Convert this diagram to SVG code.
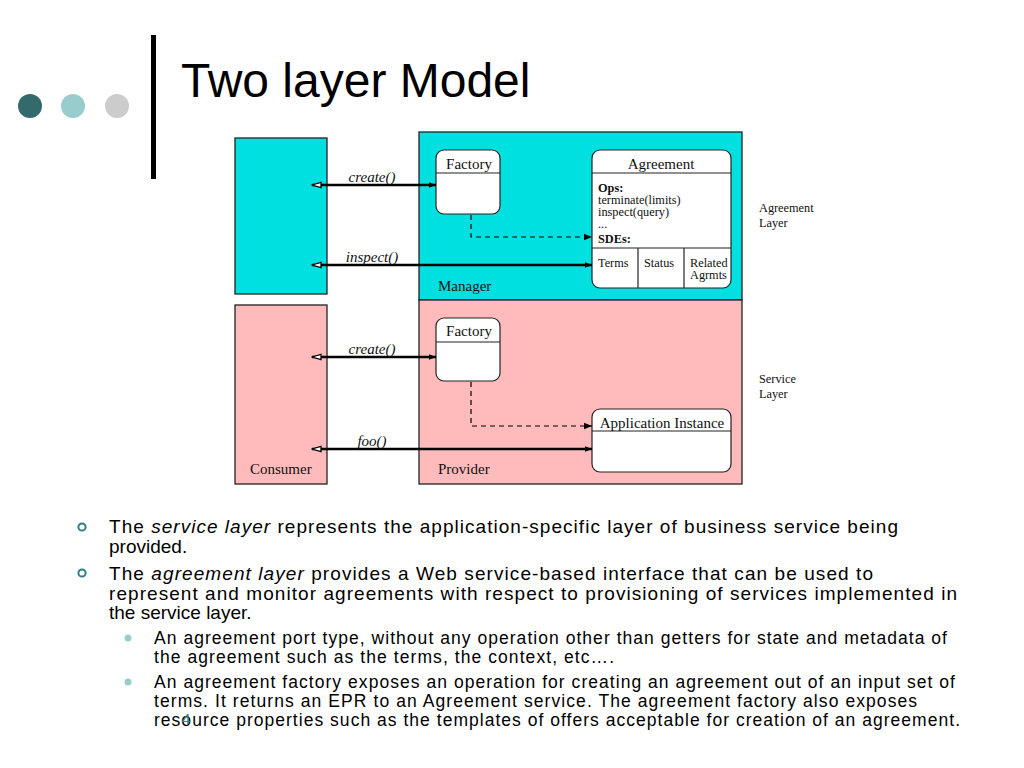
<svg xmlns="http://www.w3.org/2000/svg" width="1024" height="768" viewBox="0 0 1024 768">
<defs>
<style>
.box{stroke:#222;stroke-width:1.3}
.cy{fill:#00E0E0}
.pk{fill:#FFBBBB}
.node{fill:#fff;stroke:#222;stroke-width:1.2}
.ln{stroke:#222;stroke-width:1.2;fill:none}
.s{font-family:"Liberation Serif","Times New Roman",serif;font-size:15px;fill:#111}
.ss{font-family:"Liberation Serif","Times New Roman",serif;font-size:12.3px;fill:#111}
.it{font-family:"Liberation Serif","Times New Roman",serif;font-size:15px;font-style:italic;fill:#111}
.b{font-weight:bold}
.call{stroke:#000;stroke-width:2.4;fill:none}
.dash{stroke:#000;stroke-width:1.2;fill:none;stroke-dasharray:5,4}
.t{font-family:"Liberation Sans",Arial,sans-serif;font-size:19px;fill:#000}
.t2{font-family:"Liberation Sans",Arial,sans-serif;font-size:17.5px;fill:#000}
</style>
<marker id="fill" viewBox="0 0 10 10" refX="10" refY="5" markerWidth="11" markerHeight="7" markerUnits="userSpaceOnUse" orient="auto-start-reverse"><path d="M0,1 L10,5 L0,9 z" fill="#000"/></marker>
<marker id="fillsm" viewBox="0 0 10 10" refX="10" refY="5" markerWidth="12" markerHeight="8" markerUnits="userSpaceOnUse" orient="auto"><path d="M0,1 L10,5 L0,9 z" fill="#000"/></marker>
<marker id="open" viewBox="0 0 12 10" refX="11" refY="5" markerWidth="12" markerHeight="9" markerUnits="userSpaceOnUse" orient="auto-start-reverse"><path d="M1,2 L11,5 L1,8 z" fill="#fff" stroke="#000" stroke-width="1.4"/></marker>
</defs>
<rect width="1024" height="768" fill="#fff"/>

<g id="header">
<circle cx="30" cy="106" r="12" fill="#336A6C"/>
<circle cx="73" cy="106" r="12" fill="#99CCCC"/>
<circle cx="117" cy="106" r="12" fill="#CCCCCC"/>
<rect x="151" y="35" width="5" height="144" fill="#000"/>
<text x="181" y="97" font-family="Liberation Sans, Arial, sans-serif" font-size="48" fill="#000">Two layer Model</text>
</g>

<g id="layer-bg">
<rect id="consumer-top" class="box cy" x="235" y="138" width="92" height="156"/>
<rect id="consumer" class="box pk" x="235" y="305" width="92" height="179"/>
<rect id="manager" class="box cy" x="419" y="132" width="323" height="168"/>
<rect id="provider" class="box pk" x="419" y="300" width="323" height="184"/>
<text class="s" x="250" y="474">Consumer</text>
<text class="s" x="438" y="291">Manager</text>
<text class="s" x="438" y="474">Provider</text>
</g>

<g id="factory-top">
<rect class="node" x="436" y="150" width="64" height="64" rx="8"/>
<line class="ln" x1="436" y1="173" x2="500" y2="173"/>
<text class="s" x="469" y="169" text-anchor="middle">Factory</text>
</g>

<g id="agreement">
<rect class="node" x="592" y="150" width="139" height="138" rx="8"/>
<line class="ln" x1="592" y1="173" x2="731" y2="173"/>
<line class="ln" x1="592" y1="248" x2="731" y2="248"/>
<line class="ln" x1="638" y1="248" x2="638" y2="288"/>
<line class="ln" x1="684" y1="248" x2="684" y2="288"/>
<text class="s" x="661" y="169" text-anchor="middle">Agreement</text>
<text class="ss b" x="598" y="192">Ops:</text>
<text class="ss" x="598" y="204">terminate(limits)</text>
<text class="ss" x="598" y="216">inspect(query)</text>
<text class="ss" x="598" y="228">...</text>
<text class="ss b" x="598" y="243">SDEs:</text>
<text class="ss" x="598" y="267">Terms</text>
<text class="ss" x="644" y="267">Status</text>
<text class="ss" x="690" y="267">Related</text>
<text class="ss" x="690" y="279">Agrmts</text>
</g>

<g id="factory-bottom">
<rect class="node" x="436" y="318" width="64" height="63" rx="8"/>
<line class="ln" x1="436" y1="342" x2="500" y2="342"/>
<text class="s" x="469" y="336" text-anchor="middle">Factory</text>
</g>

<g id="app-instance">
<rect class="node" x="592" y="409" width="139" height="63" rx="8"/>
<line class="ln" x1="592" y1="431" x2="731" y2="431"/>
<text class="s" x="662" y="428" text-anchor="middle">Application Instance</text>
</g>

<g id="layer-labels">
<text class="ss" x="759" y="212">Agreement</text>
<text class="ss" x="759" y="227">Layer</text>
<text class="ss" x="759" y="383">Service</text>
<text class="ss" x="759" y="398">Layer</text>
</g>

<g id="connectors">
<line class="call" x1="312" y1="185" x2="436" y2="185" marker-start="url(#open)" marker-end="url(#fill)"/>
<line class="call" x1="312" y1="265" x2="592" y2="265" marker-start="url(#open)" marker-end="url(#fill)"/>
<line class="call" x1="312" y1="357" x2="436" y2="357" marker-start="url(#open)" marker-end="url(#fill)"/>
<line class="call" x1="312" y1="449" x2="592" y2="449" marker-start="url(#open)" marker-end="url(#fill)"/>
<path class="dash" d="M471,215 V237 H592" marker-end="url(#fillsm)"/>
<path class="dash" d="M471,382 V426 H592" marker-end="url(#fillsm)"/>
<text class="it" x="372" y="182" text-anchor="middle">create()</text>
<text class="it" x="372" y="262" text-anchor="middle">inspect()</text>
<text class="it" x="372" y="354" text-anchor="middle">create()</text>
<text class="it" x="372" y="446" text-anchor="middle">foo()</text>
</g>

<g id="bullets">
<circle cx="82" cy="527" r="3.6" fill="none" stroke="#2F7F86" stroke-width="2"/>
<circle cx="82" cy="573" r="3.6" fill="none" stroke="#2F7F86" stroke-width="2"/>
<text class="t" x="109" y="533" textLength="789" lengthAdjust="spacing">The <tspan font-style="italic">service layer</tspan> represents the application-specific layer of business service being</text>
<text class="t" x="109" y="553">provided.</text>
<text class="t" x="109" y="580" textLength="764" lengthAdjust="spacing">The <tspan font-style="italic">agreement layer</tspan> provides a Web service-based interface that can be used to</text>
<text class="t" x="109" y="600" textLength="848" lengthAdjust="spacing">represent and monitor agreements with respect to provisioning of services implemented in</text>
<text class="t" x="109" y="619">the service layer.</text>
<circle cx="128" cy="638" r="3.5" fill="#99CCCC"/>
<circle cx="128" cy="682" r="3.5" fill="#99CCCC"/>
<text class="t2" x="154" y="644" textLength="793" lengthAdjust="spacing">An agreement port type, without any operation other than getters for state and metadata of</text>
<text class="t2" x="154" y="663" textLength="460" lengthAdjust="spacing">the agreement such as the terms, the context, etc….</text>
<text class="t2" x="154" y="688" textLength="801" lengthAdjust="spacing">An agreement factory exposes an operation for creating an agreement out of an input set of</text>
<text class="t2" x="154" y="707" textLength="763" lengthAdjust="spacing">terms. It returns an EPR to an Agreement service. The agreement factory also exposes</text>
<text class="t2" x="154" y="726" textLength="806" lengthAdjust="spacing">resource properties such as the templates of offers acceptable for creation of an agreement.</text>
<text x="182" y="724" font-family="Liberation Sans, Arial, sans-serif" font-size="15" fill="#3C7F84">4</text>
</g>
</svg>
